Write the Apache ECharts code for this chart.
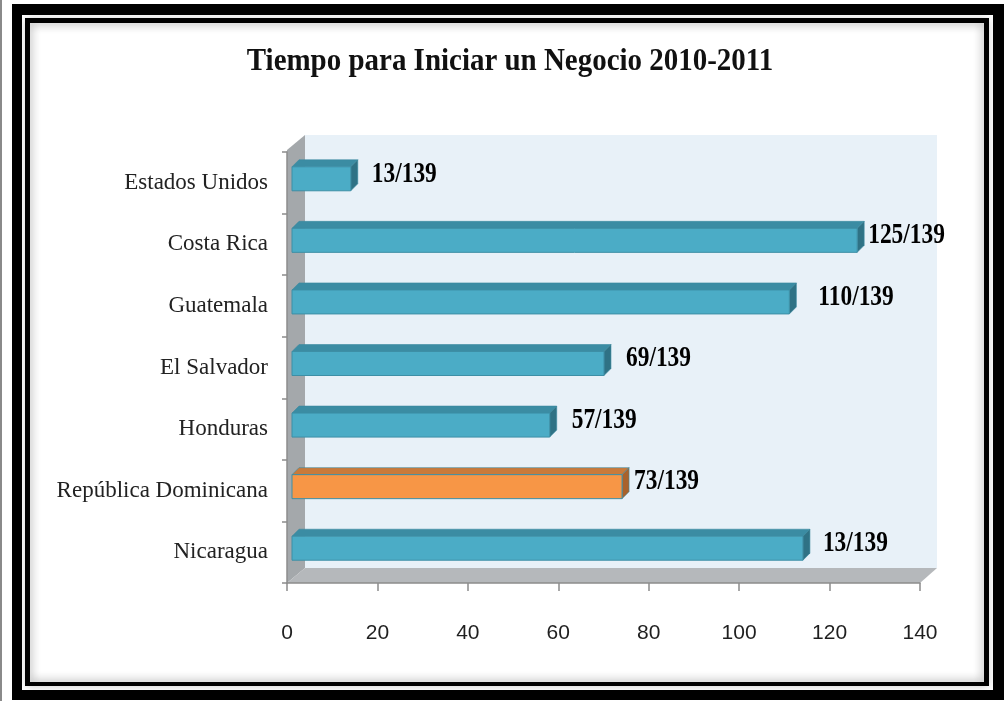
<!DOCTYPE html>
<html>
<head>
<meta charset="utf-8">
<script src="https://cdn.jsdelivr.net/npm/echarts@6/dist/echarts.min.js"></script>
<style>
  html, body { margin: 0; padding: 0; background: #fff; }
  #chart { width: 1007px; height: 701px; }
</style>
</head>
<body>
<div id="chart"></div>
<script>
// data (top to bottom)
var countries = ['Estados Unidos', 'Costa Rica', 'Guatemala', 'El Salvador', 'Honduras', 'República Dominicana', 'Nicaragua'];
var values = [13, 125, 110, 69, 57, 73, 113];
var rankLabels = ['13/139', '125/139', '110/139', '69/139', '57/139', '73/139', '13/139'];
var highlighted = 'República Dominicana';

// layout only: small nudges of the value labels as placed in the original
var labelGap = [21, 11, 29, 22, 22, 12, 20];

var G = { left: 287, right: 87, top: 152, bottom: 118 };
var DEPTH = 7;

var chart = echarts.init(document.getElementById('chart'));

var seriesData = values.map(function (v, i) { return [i, v]; });

function renderBar(params, api) {
  var idx = params.dataIndex;
  var cat = api.value(0);
  var val = api.value(1);
  var p0 = api.coord([0, cat]);
  var p1 = api.coord([val, cat]);
  var x0 = p0[0] + 5, x1 = p1[0] + 5;
  var yc = p0[1] - 4, h = 24;
  var yt = yc - h / 2, yb = yc + h / 2;
  var d = DEPTH;
  var hot = countries[idx] === highlighted;
  var front = hot ? '#f79646' : '#4bacc6';
  var top = hot ? '#c97a3a' : '#3b8ca3';
  var side = hot ? '#a9622b' : '#2f7285';
  return {
    type: 'group',
    children: [
      { type: 'polygon', shape: { points: [[x0, yt], [x0 + d, yt - d], [x1 + d, yt - d], [x1, yt]] },
        style: { fill: top, stroke: '#3a8aa0', lineWidth: 0.6 } },
      { type: 'polygon', shape: { points: [[x1, yt], [x1 + d, yt - d], [x1 + d, yb - d], [x1, yb]] },
        style: { fill: side, stroke: '#3a8aa0', lineWidth: 0.6 } },
      { type: 'rect', shape: { x: x0, y: yt, width: x1 - x0, height: h },
        style: { fill: front, stroke: '#3d8fa6', lineWidth: 1 } },
      { type: 'text', x: x1 + labelGap[idx], y: yc - 5, scaleX: 0.78, scaleY: 1,
        style: {
          text: rankLabels[idx], x: 0, y: 0,
          align: 'left', verticalAlign: 'middle',
          font: 'bold 30px "Liberation Serif", serif', fill: '#000'
        } }
    ]
  };
}

var option = {
  animation: false,
  backgroundColor: '#fff',
  graphic: [
    { type: 'rect', z: 0, shape: { x: 0, y: 0, width: 2, height: 701 }, style: { fill: '#8a8a8a' } },
    { type: 'rect', z: 0, shape: { x: 12, y: 4, width: 992, height: 696 }, style: { fill: '#000' } },
    { type: 'rect', z: 0, shape: { x: 22, y: 15, width: 971, height: 675 }, style: { fill: '#fff' } },
    { type: 'rect', z: 0, shape: { x: 25, y: 18, width: 964, height: 668 }, style: { fill: '#000' } },
    { type: 'rect', z: 0, shape: { x: 29, y: 22, width: 956, height: 661 }, style: { fill: '#fff' } },
    { type: 'rect', z: 0, shape: { x: 29, y: 22, width: 956, height: 661 },
      style: { fill: null, stroke: '#000', lineWidth: 2, shadowBlur: 10, shadowColor: 'rgba(0,0,0,0.75)' } },
    // back wall, side wall and floor of the 3D plot
    { type: 'rect', z: 0, shape: { x: 305, y: 135, width: 632, height: 433 }, style: { fill: '#e8f1f8' } },
    { type: 'polygon', z: 0, shape: { points: [[287, 150], [305, 135], [305, 568], [287, 583]] }, style: { fill: '#a4a8ab' } },
    { type: 'polygon', z: 0, shape: { points: [[287, 583], [305, 568], [937, 568], [920, 583]] }, style: { fill: '#b5b8bb' } },
    { type: 'text', z: 1, x: 510, y: 62, scaleX: 0.905, scaleY: 1,
      style: {
        text: 'Tiempo para Iniciar un Negocio 2010-2011', x: 0, y: 0,
        align: 'center', verticalAlign: 'middle',
        font: 'bold 32px "Liberation Serif", serif', fill: '#111'
      } }
  ],
  grid: { left: G.left, right: G.right, top: G.top, bottom: G.bottom, containLabel: false },
  xAxis: {
    type: 'value', min: 0, max: 140, interval: 20,
    splitLine: { show: false },
    axisLine: { show: true, lineStyle: { color: '#8c8c8c', width: 1.5 } },
    axisTick: { show: true, length: 8, lineStyle: { color: '#8c8c8c', width: 1.5 } },
    axisLabel: { margin: 40, color: '#1f1f1f', fontFamily: '"Liberation Sans", Arial, sans-serif', fontSize: 21 }
  },
  yAxis: {
    type: 'category', data: countries, inverse: true,
    axisLine: { show: true, lineStyle: { color: '#8c8c8c', width: 1.5 } },
    axisTick: { show: true, length: 5, lineStyle: { color: '#8c8c8c', width: 1.5 } },
    axisLabel: { margin: 19, color: '#222', fontFamily: '"Liberation Serif", serif', fontSize: 23 }
  },
  series: [{
    type: 'custom',
    z: 5,
    renderItem: renderBar,
    encode: { x: 1, y: 0 },
    data: seriesData
  }]
};

chart.setOption(option);
</script>
</body>
</html>
